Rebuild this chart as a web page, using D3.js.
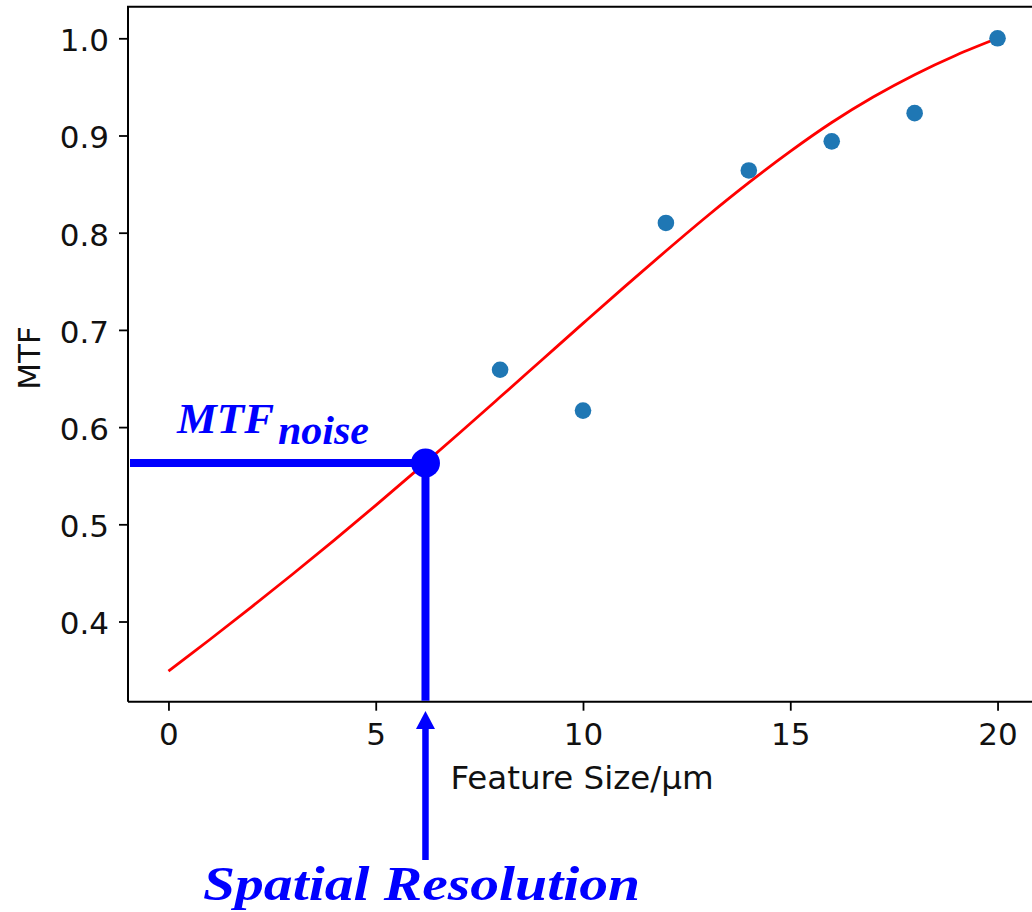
<!DOCTYPE html>
<html>
<head>
<meta charset="utf-8">
<script src="https://cdn.jsdelivr.net/npm/d3@7/dist/d3.min.js"></script>
<style>
  html, body { margin: 0; padding: 0; background: #fff; }
  svg { display: block; }
</style>
</head>
<body>
<svg id="chart" width="1032" height="912"></svg>
<script>
// Measured MTF at each feature size
const featureSize = [8, 10, 12, 14, 16, 18, 20];
const mtfMeasured = [0.659, 0.617, 0.810, 0.864, 0.894, 0.923, 1.0];

// Fitted MTF curve, sampled at each micron
const fitSize = [0, 1, 2, 3, 4, 5, 6, 7, 8, 9, 10, 11, 12, 13, 14, 15, 16, 17, 18, 19, 20];
const fitMtf  = [0.349, 0.3815, 0.4148, 0.4489, 0.4838, 0.5195, 0.5560, 0.5932, 0.6309, 0.6688,
                 0.7067, 0.7443, 0.7812, 0.8172, 0.8515, 0.8837, 0.9134, 0.9396, 0.9626, 0.9826, 1.0];

// Where the fit crosses the noise floor
const spatialResolution = 6.2;
const mtfNoise = 0.563;

const xTicks = [0, 5, 10, 15, 20];
const yTicks = [0.4, 0.5, 0.6, 0.7, 0.8, 0.9, 1.0];

const svg = d3.select("#chart");
const plotLeft = 128, plotTop = 6.7, plotBottom = 701.7;

const x = d3.scaleLinear().domain([-1, 21]).range([127, 1039]);
const y = d3.scaleLinear().domain([0.3175, 1.0325]).range([plotBottom, plotTop]);

const axisFont = "'DejaVu Sans', sans-serif";
const annFont = "'Liberation Serif', 'DejaVu Serif', serif";
const blue = "#0000ff";

// Fit curve
const line = d3.line()
  .x((d, i) => x(fitSize[i]))
  .y(d => y(d))
  .curve(d3.curveCatmullRom);
svg.append("path")
  .datum(fitMtf)
  .attr("d", line)
  .attr("fill", "none")
  .attr("stroke", "#ff0000")
  .attr("stroke-width", 2.8);

// Measured points
svg.append("g").selectAll("circle")
  .data(mtfMeasured)
  .join("circle")
  .attr("cx", (d, i) => x(featureSize[i]))
  .attr("cy", d => y(d))
  .attr("r", 8.3)
  .attr("fill", "#1f77b4");

// Axes
const xAxis = d3.axisBottom(x).tickValues(xTicks).tickFormat(d3.format("d"))
  .tickSize(9).tickPadding(10);
const yAxis = d3.axisLeft(y).tickValues(yTicks).tickFormat(d3.format(".1f"))
  .tickSize(9).tickPadding(10);

const gx = svg.append("g").attr("transform", `translate(0,${plotBottom})`).call(xAxis);
const gy = svg.append("g").attr("transform", `translate(${plotLeft},0)`).call(yAxis);
[gx, gy].forEach(g => {
  g.select(".domain").remove();
  g.selectAll(".tick line").attr("stroke", "#000").attr("stroke-width", 1.8);
  g.selectAll(".tick text")
    .attr("fill", "#111")
    .style("font-family", axisFont)
    .style("font-size", "31px");
});
gx.selectAll(".tick text").attr("dy", "0.78em");
gy.selectAll(".tick text").attr("dy", "0.40em");

// Spines (right spine falls outside the canvas)
const spine = svg.append("g").attr("stroke", "#000").attr("stroke-width", 2).attr("fill", "none");
spine.append("path").attr("d", `M${plotLeft},${plotBottom}V${plotTop}H${x(21)}`);
spine.append("path").attr("d", `M${plotLeft},${plotBottom}H${x(21)}`);

// Axis labels
svg.append("text")
  .attr("x", 582).attr("y", 789)
  .attr("text-anchor", "middle")
  .attr("fill", "#111")
  .style("font-family", axisFont).style("font-size", "32.5px")
  .text("Feature Size/μm");
svg.append("text")
  .attr("transform", "translate(40,358) rotate(-90)")
  .attr("text-anchor", "middle")
  .attr("fill", "#111")
  .style("font-family", axisFont).style("font-size", "31px")
  .text("MTF");

// Noise-floor annotation
const px = x(spatialResolution), py = y(mtfNoise);
svg.append("line")
  .attr("x1", plotLeft + 2).attr("x2", px).attr("y1", py).attr("y2", py)
  .attr("stroke", blue).attr("stroke-width", 8);
svg.append("line")
  .attr("x1", px).attr("x2", px).attr("y1", py).attr("y2", plotBottom - 1)
  .attr("stroke", blue).attr("stroke-width", 8);
svg.append("circle")
  .attr("cx", px).attr("cy", py).attr("r", 14.5)
  .attr("fill", blue);

// Arrow pointing up at the resolution
const tipY = 711, baseY = 729, tailY = 860;
svg.append("line")
  .attr("x1", px).attr("x2", px).attr("y1", baseY - 1).attr("y2", tailY)
  .attr("stroke", blue).attr("stroke-width", 6.5);
svg.append("path")
  .attr("d", `M${px},${tipY}L${px + 9.5},${baseY}L${px - 9.5},${baseY}Z`)
  .attr("fill", blue);

// Annotation text
const mtfLabel = svg.append("text")
  .attr("x", 177).attr("y", 432.7)
  .attr("fill", blue)
  .style("font-family", annFont)
  .style("font-weight", "bold").style("font-style", "italic");
mtfLabel.append("tspan")
  .style("font-size", "42px")
  .attr("textLength", 97).attr("lengthAdjust", "spacingAndGlyphs")
  .text("MTF");
mtfLabel.append("tspan")
  .attr("x", 278).attr("y", 444.3)
  .style("font-size", "40px")
  .attr("textLength", 91).attr("lengthAdjust", "spacingAndGlyphs")
  .text("noise");

svg.append("text")
  .attr("x", 203).attr("y", 900)
  .attr("fill", blue)
  .style("font-family", annFont)
  .style("font-weight", "bold").style("font-style", "italic")
  .style("font-size", "48px")
  .attr("textLength", 437).attr("lengthAdjust", "spacingAndGlyphs")
  .text("Spatial Resolution");
</script>
</body>
</html>
